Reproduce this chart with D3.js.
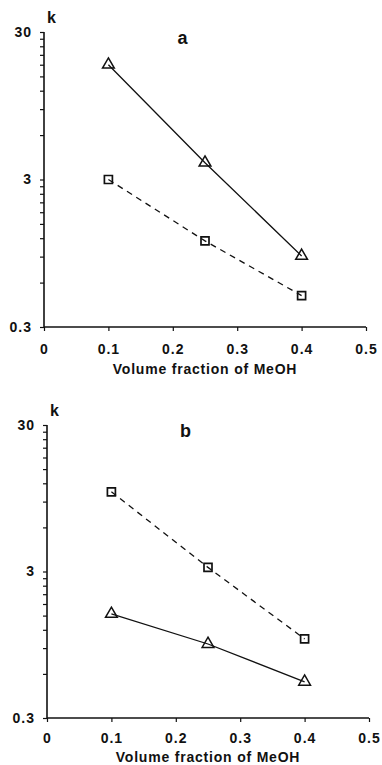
<!DOCTYPE html>
<html>
<head>
<meta charset="utf-8">
<script src="https://cdn.jsdelivr.net/npm/d3@7"></script>
<style>
  body { margin: 0; background: #fff; }
  svg { display: block; }
  text { font-family: "Liberation Sans", Arial, sans-serif; font-weight: bold; fill: #111; }
</style>
</head>
<body>
<div id="chart"></div>
<script>
// data
var fractions = [0.1, 0.25, 0.4];
var aTriangle = [18, 3.9, 0.91];
var aSquare = [3.0, 1.15, 0.49];
var bSquare = [10.5, 3.2, 1.04];
var bTriangle = [1.54, 0.96, 0.53];

var xTicks = [0, 0.1, 0.2, 0.3, 0.4, 0.5];
var yTicks = [0.3, 0.6, 0.9, 1.2, 1.5, 1.8, 2.1, 2.4, 2.7, 3, 6, 9, 12, 15, 18, 21, 24, 27, 30];
var yLabels = [0.3, 3, 30];

var svg = d3.select("#chart")
  .append("svg")
  .attr("width", 382)
  .attr("height", 765);

// one panel per letter
var panels = [
  { name: "a", x0: 44, x1: 366, y0: 327, y1: 32, pad: 13, titleDy: 47, tri: aTriangle, sq: aSquare },
  { name: "b", x0: 47, x1: 369, y0: 718, y1: 425, pad: 11, titleDy: 44, tri: bTriangle, sq: bSquare }
];

panels.forEach(function (p) {
  var g = svg.append("g");

  var x = d3.scaleLinear().domain([0, 0.5]).range([p.x0, p.x1]);
  var y = d3.scaleLog().domain([0.3, 30]).range([p.y0, p.y1]);

  // y axis
  var yAxis = g.append("g")
    .attr("transform", "translate(" + p.x0 + ",0)")
    .call(d3.axisLeft(y)
      .tickValues(yTicks)
      .tickSize(4)
      .tickPadding(8)
      .tickFormat(function (d) { return yLabels.indexOf(d) >= 0 ? d : ""; }));

  // x axis
  var xAxis = g.append("g")
    .attr("transform", "translate(0," + p.y0 + ")")
    .call(d3.axisBottom(x)
      .tickValues(xTicks)
      .tickSize(4)
      .tickPadding(p.pad)
      .tickFormat(function (d) { return d; }));

  [yAxis, xAxis].forEach(function (ax) {
    ax.select(".domain").attr("stroke", "#111").attr("stroke-width", 1.6);
    ax.selectAll(".tick line").attr("stroke", "#111").attr("stroke-width", 1.2);
    ax.selectAll(".tick text")
      .style("font-size", "14px")
      .style("font-weight", "bold")
      .style("letter-spacing", "1px")
      .style("font-family", "'Liberation Sans', Arial, sans-serif")
      .attr("fill", "#111");
  });
  yAxis.select(".domain").attr("d", "M0," + p.y0 + "V" + p.y1);
  xAxis.select(".domain").attr("d", "M" + p.x0 + ",0H" + p.x1);

  g.append("text")
    .attr("x", (p.x0 + p.x1) / 2)
    .attr("y", p.y0 + p.titleDy)
    .attr("text-anchor", "middle")
    .style("font-size", "14px")
    .style("letter-spacing", "0.8px")
    .text("Volume fraction of MeOH");

  g.append("text")
    .attr("x", p.x0 + 3)
    .attr("y", p.y1 - 9)
    .style("font-size", "16px")
    .text("k");

  g.append("text")
    .attr("x", x(0.215))
    .attr("y", p.y1 + 12)
    .attr("text-anchor", "middle")
    .style("font-size", "18px")
    .text(p.name);

  var line = d3.line()
    .x(function (d) { return x(d[0]); })
    .y(function (d) { return y(d[1]); });

  var tri = fractions.map(function (f, i) { return [f, p.tri[i]]; });
  var sq = fractions.map(function (f, i) { return [f, p.sq[i]]; });

  g.append("path")
    .datum(tri)
    .attr("d", line)
    .attr("fill", "none")
    .attr("stroke", "#111")
    .attr("stroke-width", 1.3);

  g.append("path")
    .datum(sq)
    .attr("d", line)
    .attr("fill", "none")
    .attr("stroke", "#111")
    .attr("stroke-width", 1.3)
    .attr("stroke-dasharray", "6,5");

  g.selectAll(".tri")
    .data(tri)
    .enter()
    .append("path")
    .attr("class", "tri")
    .attr("transform", function (d) { return "translate(" + x(d[0]) + "," + y(d[1]) + ")"; })
    .attr("d", d3.symbol().type(d3.symbolTriangle).size(60))
    .attr("fill", "none")
    .attr("stroke", "#111")
    .attr("stroke-width", 1.5);

  g.selectAll(".sq")
    .data(sq)
    .enter()
    .append("path")
    .attr("class", "sq")
    .attr("transform", function (d) { return "translate(" + x(d[0]) + "," + y(d[1]) + ")"; })
    .attr("d", d3.symbol().type(d3.symbolSquare).size(64))
    .attr("fill", "none")
    .attr("stroke", "#111")
    .attr("stroke-width", 1.7);
});
</script>
</body>
</html>
